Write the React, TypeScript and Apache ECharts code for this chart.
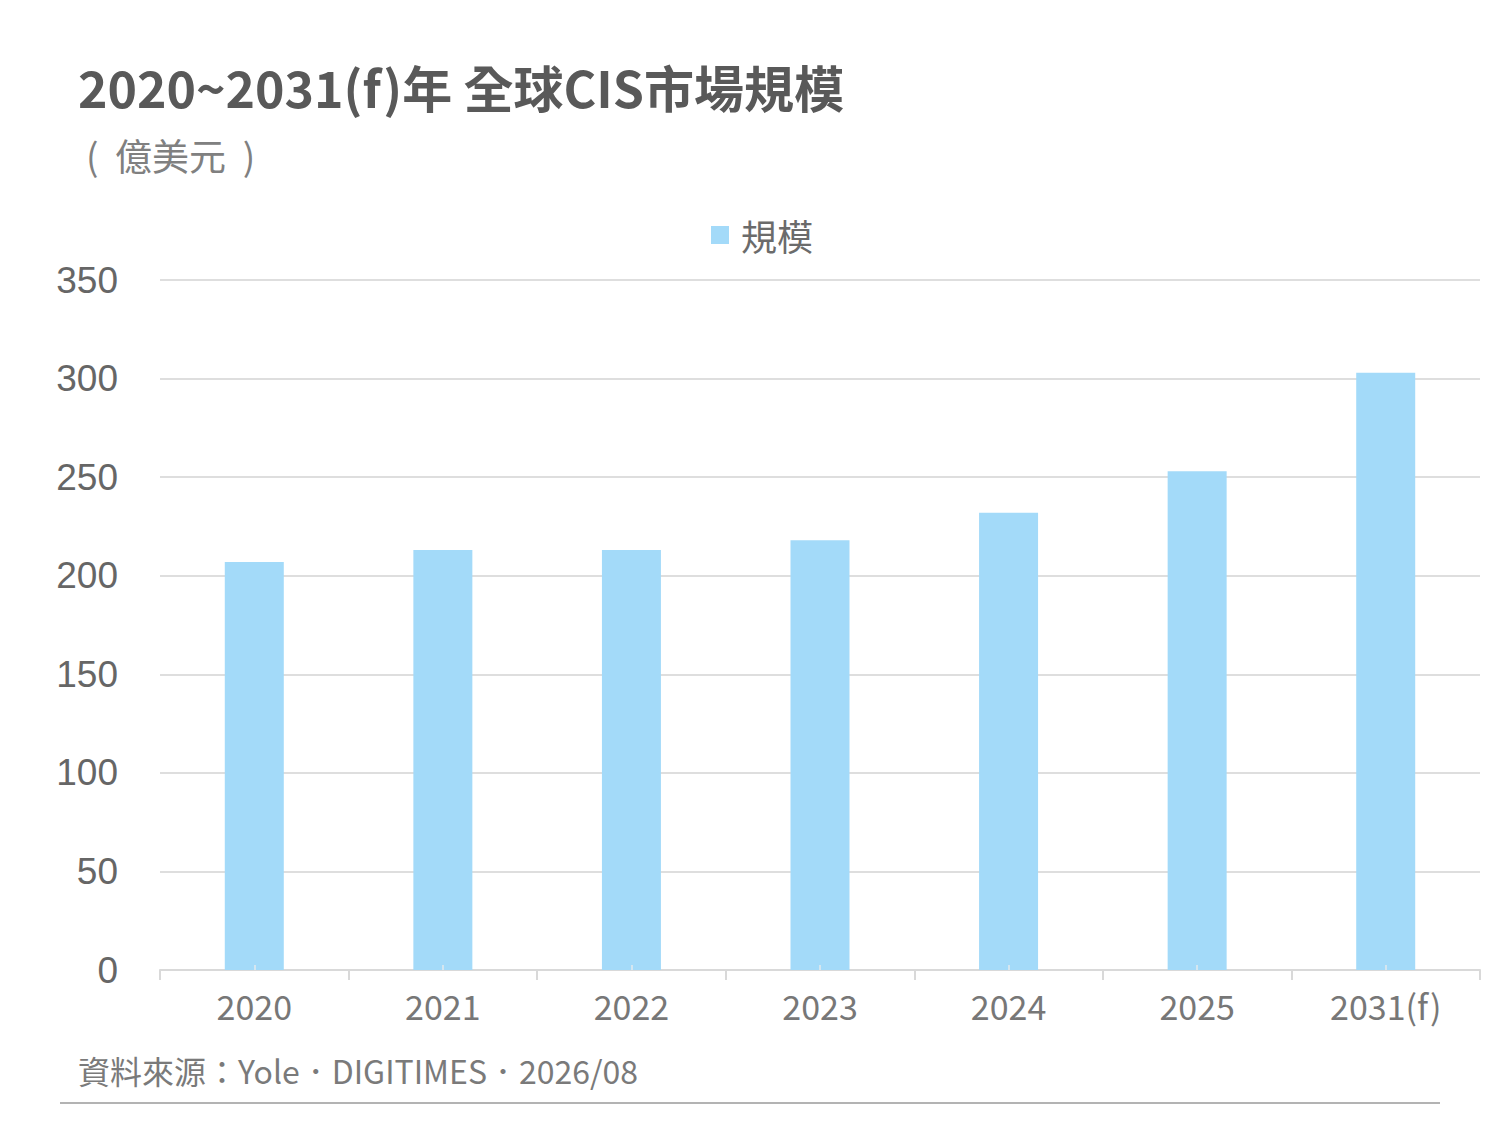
import React, { useEffect, useRef } from "react";
import * as echarts from "echarts";

const categories = ["2020", "2021", "2022", "2023", "2024", "2025", "2031(f)"];
const marketSize = [207, 213, 213, 218, 232, 253, 303];
const seriesName = "規模";
const titleText = "2020~2031(f)年 全球CIS市場規模";
const unitText = "(  億美元  )";
const sourceText = "資料來源：Yole．DIGITIMES．2026/08";

export default function App() {
  const ref = useRef<HTMLDivElement>(null);
  useEffect(() => {
    if (!ref.current) return;
    const chart = echarts.init(ref.current, null, { renderer: "svg" });
    const cjk = "'Noto Sans CJK TC', 'Noto Sans', sans-serif";
    chart.setOption({
      animation: false,
      backgroundColor: "#ffffff",
      grid: { left: 160, right: 20, top: 280, bottom: 155 },
      legend: {
        data: [seriesName],
        top: 212,
        left: 706,
        icon: "rect",
        itemWidth: 18,
        itemHeight: 18,
        itemGap: 12,
        textStyle: { fontFamily: cjk, fontSize: 36, color: "#6b6b6b", padding: [0, 0, 0, 7] },
      },
      xAxis: [
        {
          type: "category",
          data: categories,
          axisLine: { lineStyle: { color: "#d9d9d9", width: 2 } },
          axisTick: { show: true, length: 10, lineStyle: { color: "#d9d9d9", width: 2 } },
          axisLabel: { fontFamily: cjk, fontSize: 34, color: "#777777", margin: 18 },
        },
        {
          type: "category",
          data: categories,
          position: "bottom",
          z: 5,
          axisLine: { show: false },
          axisTick: { show: true, inside: true, alignWithLabel: true, length: 5, lineStyle: { color: "#d4e6f0", width: 2 } },
          axisLabel: { show: false },
        },
      ],
      yAxis: {
        type: "value",
        min: 0,
        max: 350,
        interval: 50,
        axisLine: { show: false },
        axisTick: { show: false },
        axisLabel: { fontFamily: "'Liberation Sans', Arial, sans-serif", fontSize: 37, color: "#666666", margin: 42 },
        splitLine: { lineStyle: { color: "#dedede", width: 2 } },
      },
      series: [
        {
          name: seriesName,
          type: "bar",
          data: marketSize,
          barWidth: 59,
          itemStyle: { color: "#a3daf9" },
        },
      ],
      graphic: [
        {
          type: "text",
          left: 78,
          top: 61,
          style: { text: titleText, fontFamily: cjk, fontSize: 50, fontWeight: "bold", fill: "#595959" },
        },
        {
          type: "text",
          left: 86,
          top: 136,
          style: { text: unitText, fontFamily: cjk, fontSize: 37, fill: "#808080" },
        },
        {
          type: "text",
          left: 78,
          top: 1054,
          style: { text: sourceText, fontFamily: cjk, fontSize: 32, fill: "#7a7a7a" },
        },
        {
          type: "line",
          shape: { x1: 60, y1: 1103, x2: 1440, y2: 1103 },
          style: { stroke: "#9a9a9a", lineWidth: 1.5 },
        },
      ],
    });
    return () => chart.dispose();
  }, []);
  return <div ref={ref} style={{ position: "absolute", left: 0, top: 0, width: 1500, height: 1125 }} />;
}
